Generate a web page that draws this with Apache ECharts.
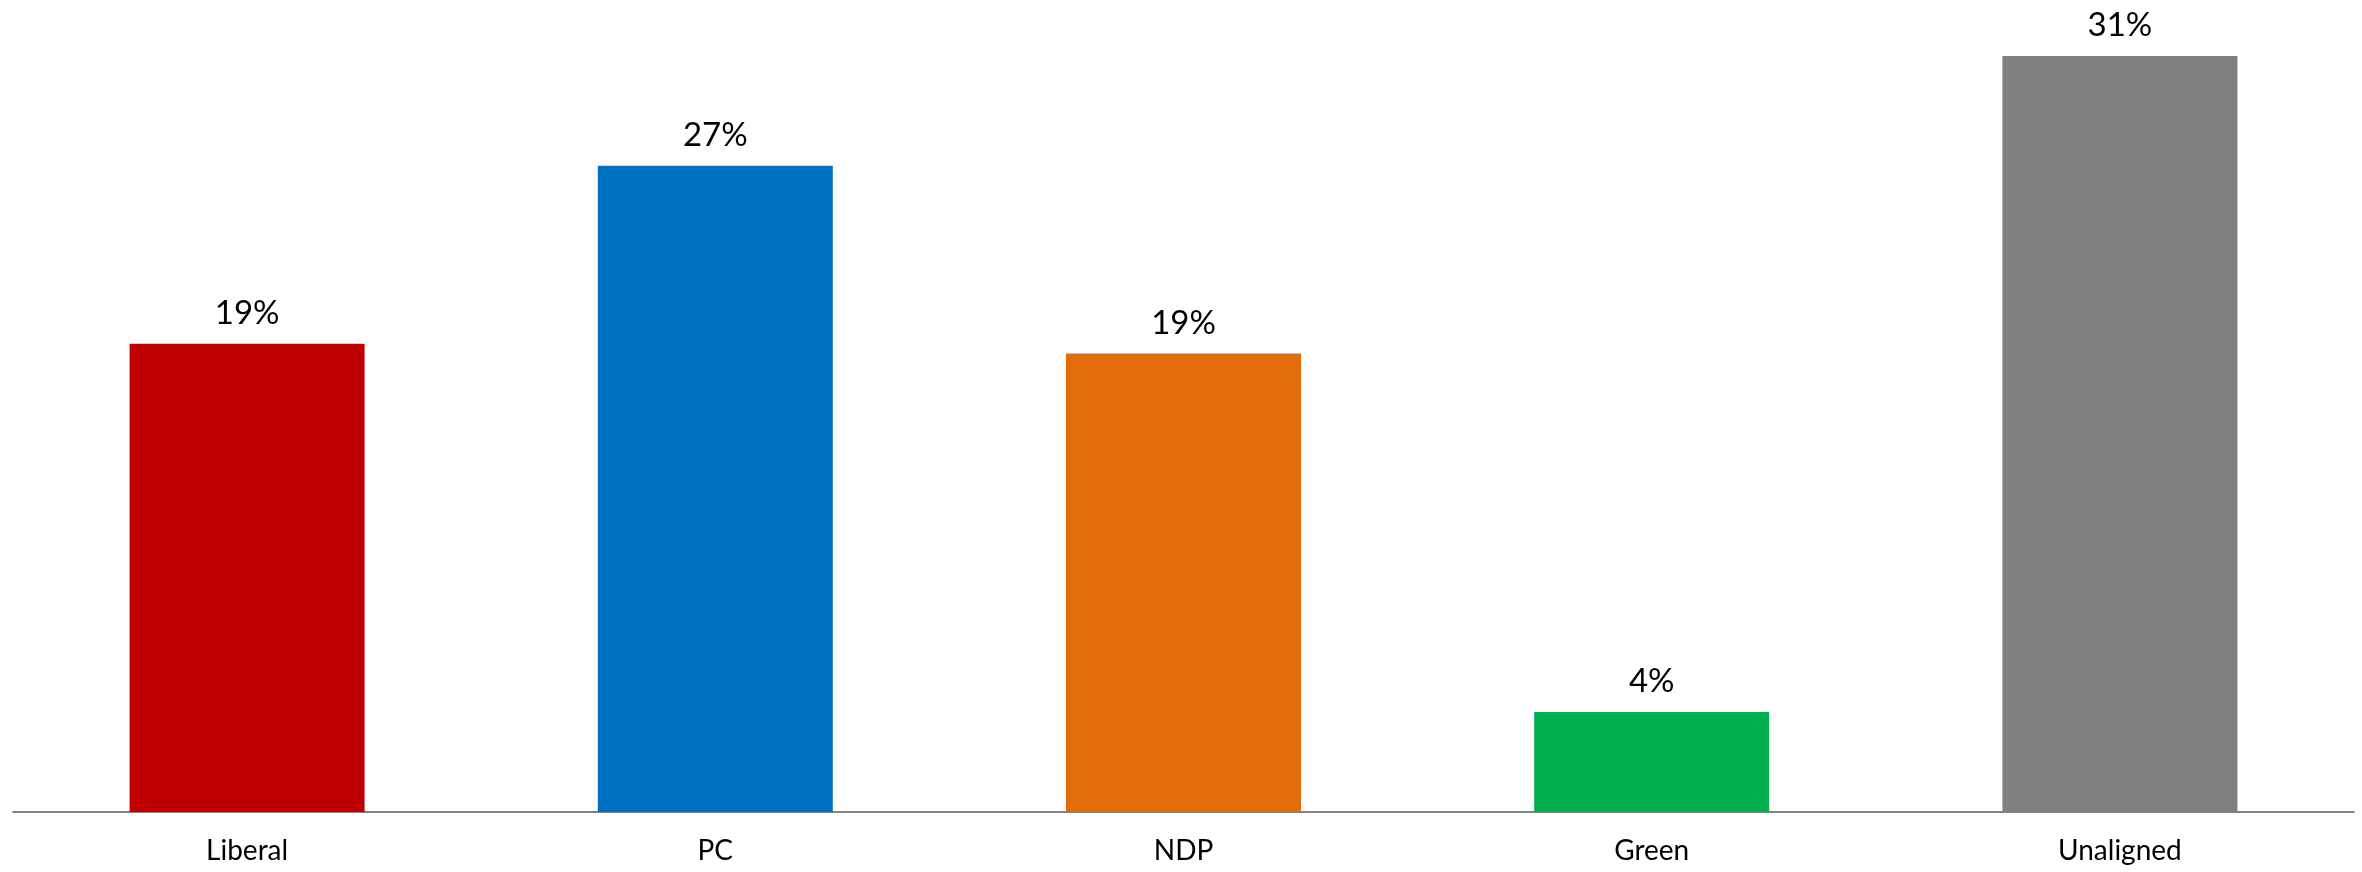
<!DOCTYPE html>
<html>
<head>
<meta charset="utf-8">
<script src="https://cdn.jsdelivr.net/npm/echarts@6/dist/echarts.min.js"></script>
<style>
html,body{margin:0;padding:0;background:#fff;}
#chart{width:2362px;height:872px;}
</style>
</head>
<body>
<div id="chart"></div>
<script>
const categories = ['Liberal', 'PC', 'NDP', 'Green', 'Unaligned'];
const values = [19.2, 26.5, 18.8, 4.1, 31.0];
const colors = ['#C00000', '#0070C0', '#E36C0A', '#00B050', '#808080'];

const chart = echarts.init(document.getElementById('chart'));
chart.setOption({
  animation: false,
  backgroundColor: '#ffffff',
  grid: { left: 13, right: 8, top: 56, bottom: 60, containLabel: false },
  xAxis: {
    type: 'category',
    data: categories,
    axisLine: { lineStyle: { color: '#595959', width: 1.5 } },
    axisTick: { show: false },
    axisLabel: { color: '#000', fontFamily: 'Lato', fontSize: 28, margin: 25 }
  },
  yAxis: {
    type: 'value',
    min: 0,
    max: 31,
    show: false,
    splitLine: { show: false }
  },
  series: [{
    type: 'bar',
    barWidth: 235,
    data: values.map((v, i) => ({ value: v, itemStyle: { color: colors[i] } })),
    label: {
      show: true,
      position: 'top',
      distance: 14,
      color: '#000',
      fontFamily: 'Lato',
      fontSize: 33,
      formatter: p => Math.round(p.value) + '%'
    }
  }]
});
</script>
</body>
</html>
